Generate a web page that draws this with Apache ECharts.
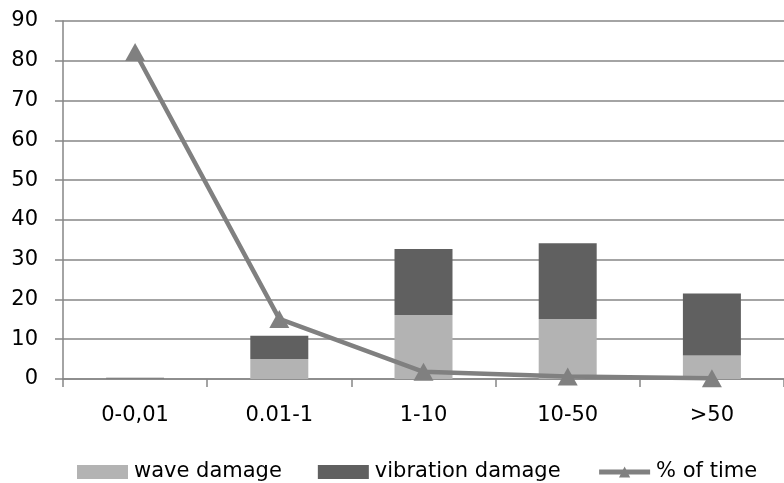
<!DOCTYPE html>
<html>
<head>
<meta charset="utf-8">
<script src="https://cdn.jsdelivr.net/npm/echarts@6/dist/echarts.min.js"></script>
<style>
  html, body { margin: 0; padding: 0; background: #fff; }
  #chart { width: 784px; height: 483px; }
</style>
</head>
<body>
<div id="chart"></div>
<script>
// Damage share per exposure class, with the share of time spent in each class
const categories = ['0-0,01', '0.01-1', '1-10', '10-50', '>50'];
const waveDamage = [0.1, 5.0, 16.1, 15.1, 5.9];
const vibrationDamage = [0.2, 5.9, 16.6, 19.0, 15.6];
const timeShare = [82.2, 15.1, 1.8, 0.6, 0.2];
const yTicks = { min: 0, max: 90, step: 10 };

const FONT = 'DejaVu Sans';
const FONT_SIZE = 21;
const GRID_GREY = '#868686';
const LINE_GREY = '#808080';

const chart = echarts.init(document.getElementById('chart'), null, { renderer: 'canvas' });

chart.setOption({
  animation: false,
  backgroundColor: '#ffffff',
  textStyle: { fontFamily: FONT },
  grid: { left: 63, right: -10, top: 21, bottom: 104, containLabel: false },
  legend: {
    left: 72,
    top: 456,
    itemWidth: 51,
    itemHeight: 14,
    itemGap: 36,
    textStyle: { fontFamily: FONT, fontSize: FONT_SIZE, lineHeight: 22, color: '#000', padding: [0, 0, 0, 1] },
    data: [
      { name: 'wave damage', icon: 'rect' },
      { name: 'vibration damage', icon: 'rect' },
      { name: '% of time', lineStyle: { width: 5, color: LINE_GREY }, itemStyle: { color: LINE_GREY } }
    ]
  },
  xAxis: {
    type: 'category',
    data: categories,
    boundaryGap: true,
    axisLine: { lineStyle: { color: GRID_GREY, width: 1.5 } },
    axisTick: { show: true, length: 8, inside: false, alignWithLabel: false,
                lineStyle: { color: GRID_GREY, width: 1.5 } },
    axisLabel: { fontFamily: FONT, fontSize: FONT_SIZE, color: '#000', margin: 26 },
    splitLine: { show: false }
  },
  yAxis: {
    type: 'value',
    min: yTicks.min,
    max: yTicks.max,
    interval: yTicks.step,
    axisLine: { show: true, lineStyle: { color: GRID_GREY, width: 1.5 } },
    axisTick: { show: true, length: 8, lineStyle: { color: GRID_GREY, width: 1.5 } },
    axisLabel: { fontFamily: FONT, fontSize: FONT_SIZE, color: '#000', margin: 25 },
    splitLine: { show: true, lineStyle: { color: GRID_GREY, width: 1.5 } }
  },
  series: [
    {
      name: 'wave damage',
      type: 'bar',
      stack: 'damage',
      barWidth: 58,
      data: waveDamage,
      itemStyle: { color: '#b3b3b3' },
      z: 2
    },
    {
      name: 'vibration damage',
      type: 'bar',
      stack: 'damage',
      barWidth: 58,
      data: vibrationDamage,
      itemStyle: { color: '#606060' },
      z: 2
    },
    {
      name: '% of time',
      type: 'line',
      data: timeShare,
      symbol: 'triangle',
      symbolSize: [20, 18],
      showAllSymbol: true,
      lineStyle: { color: LINE_GREY, width: 4.5 },
      itemStyle: { color: LINE_GREY },
      z: 5
    }
  ]
});
</script>
</body>
</html>
